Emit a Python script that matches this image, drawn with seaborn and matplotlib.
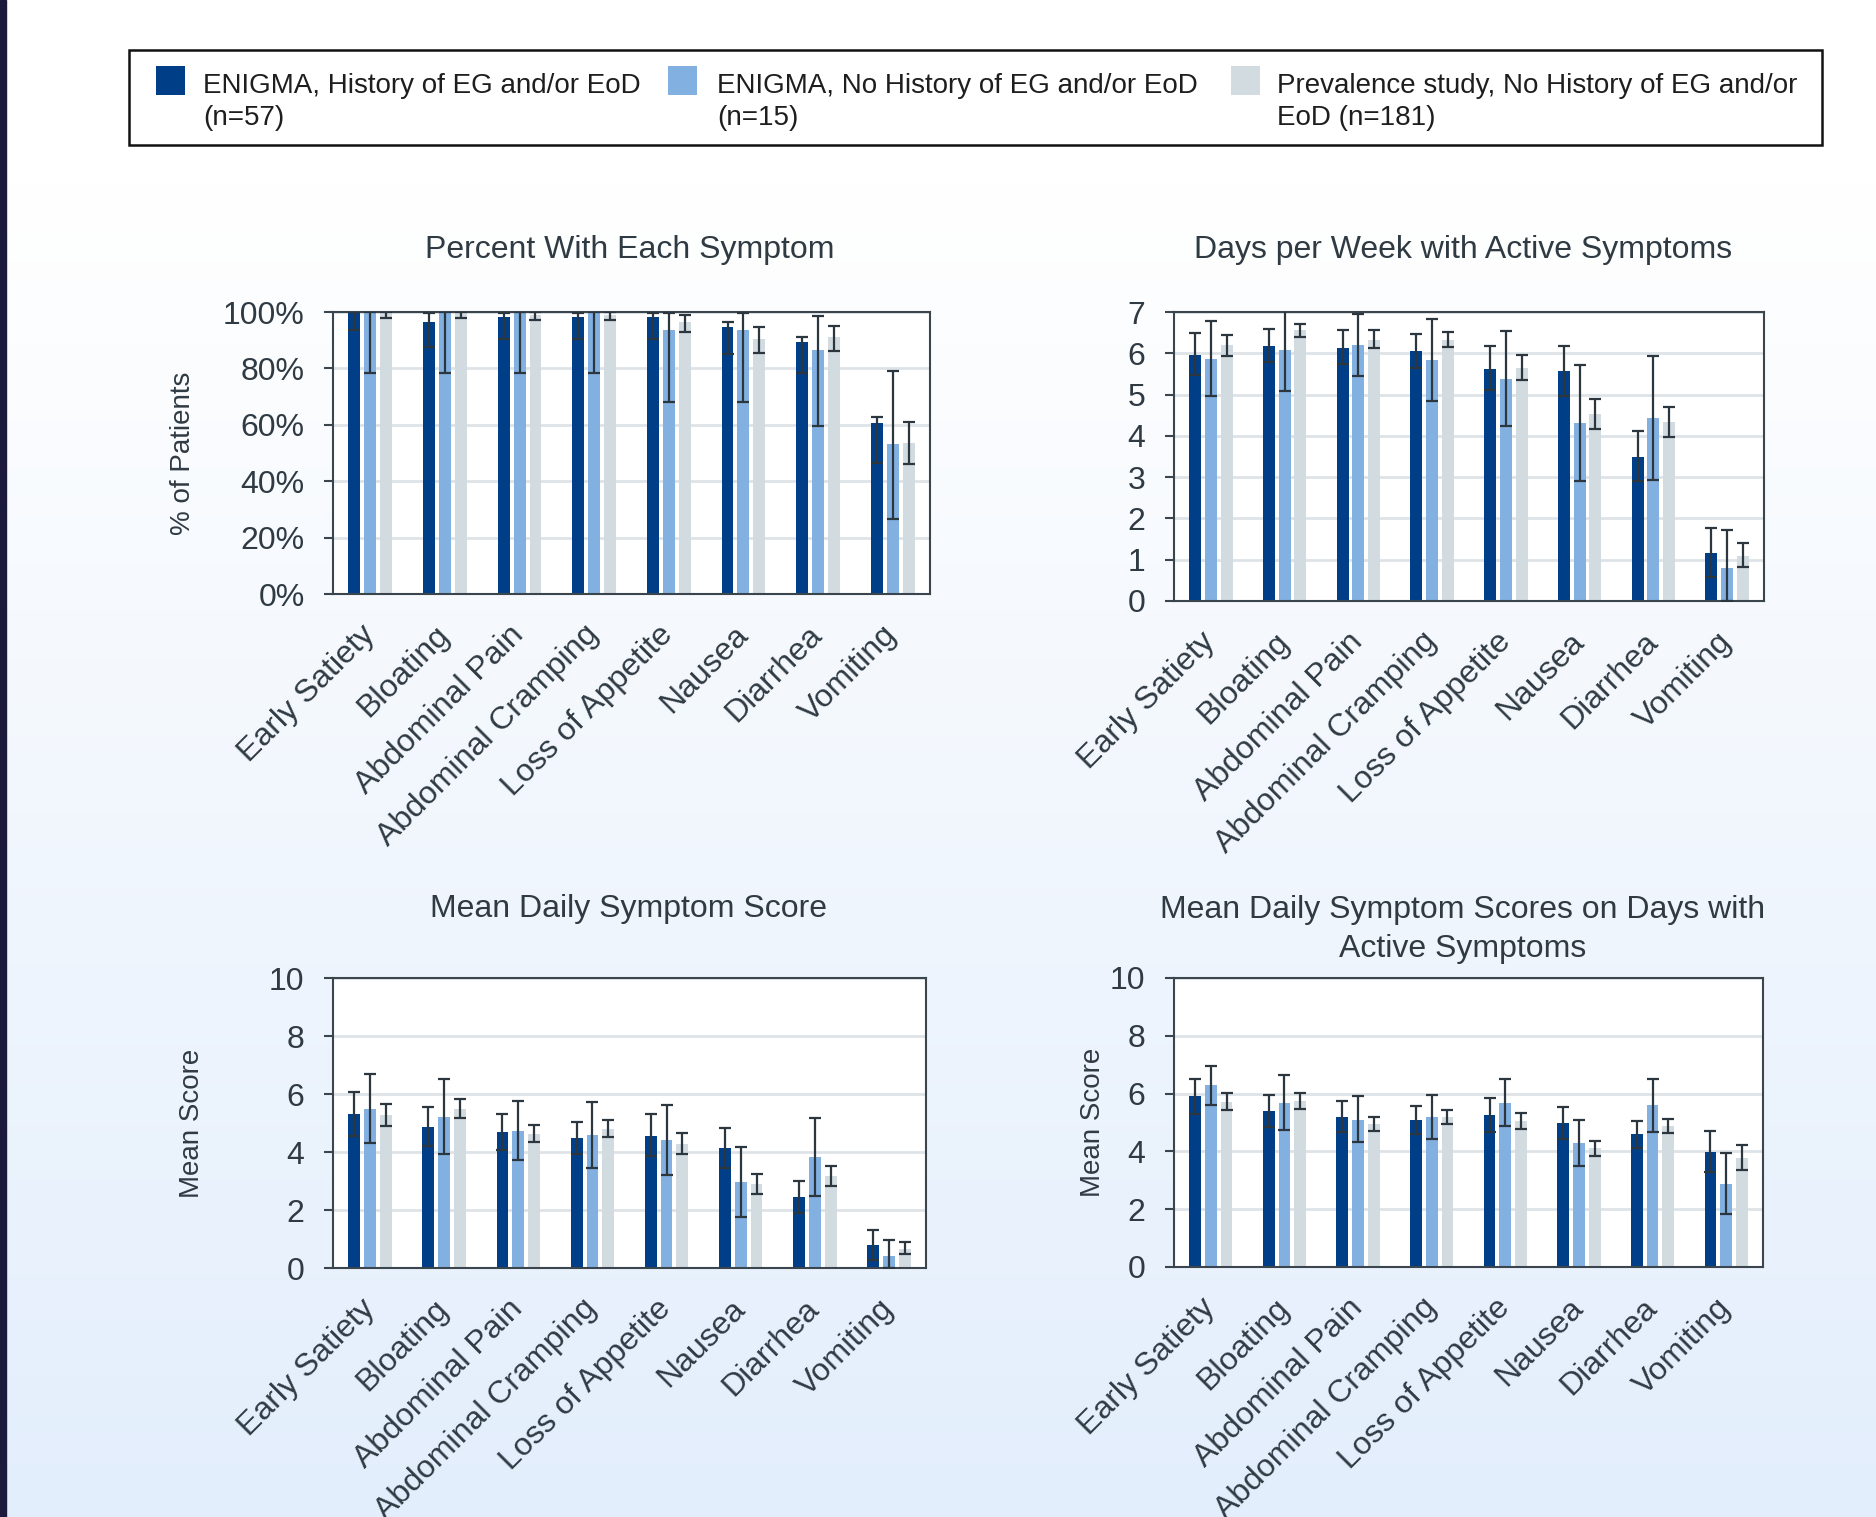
import matplotlib

matplotlib.use("Agg")
import matplotlib.pyplot as plt
import numpy as np
import pandas as pd
import seaborn as sns
from matplotlib.colors import LinearSegmentedColormap
from matplotlib.patches import Rectangle
from matplotlib.ticker import MultipleLocator, PercentFormatter

symptoms = ["Early Satiety", "Bloating", "Abdominal Pain", "Abdominal Cramping",
            "Loss of Appetite", "Nausea", "Diarrhea", "Vomiting"]
groups = ["ENIGMA, History of EG and/or EoD\n(n=57)",
          "ENIGMA, No History of EG and/or EoD\n(n=15)",
          "Prevalence study, No History of EG and/or\nEoD (n=181)"]
colors = ["#003f88", "#82b0e1", "#d2dbe0"]

# one inner list per group (same order as `groups`)
pct_mean = [[100, 96.6, 98.2, 98.2, 98.2, 94.7, 89.4, 60.7],
            [100, 100, 100, 100, 93.5, 93.5, 86.7, 53.1],
            [99.5, 99.5, 99.0, 99.0, 96.6, 90.6, 91.1, 53.6]]
pct_lo = [[93.7, 87.6, 90.4, 90.4, 90.4, 85.2, 78.2, 46.6],
          [78.2, 78.2, 78.2, 78.2, 68.1, 68.1, 59.5, 26.6],
          [98.0, 98.0, 97.0, 97.0, 92.9, 85.5, 86.2, 46.0]]
pct_hi = [[100, 99.6, 99.6, 99.6, 99.6, 96.6, 91.1, 62.6],
          [100, 100, 100, 100, 99.8, 99.8, 98.6, 79.0],
          [100, 100, 100, 100, 98.9, 94.6, 95.0, 60.9]]

days_mean = [[5.97, 6.17, 6.13, 6.05, 5.63, 5.56, 3.49, 1.17],
             [5.87, 6.07, 6.19, 5.83, 5.37, 4.30, 4.44, 0.81],
             [6.19, 6.56, 6.33, 6.31, 5.65, 4.52, 4.33, 1.10]]
days_lo = [[5.47, 5.79, 5.73, 5.65, 5.12, 4.96, 2.91, 0.59],
           [4.96, 5.08, 5.44, 4.84, 4.24, 2.91, 2.93, 0.0],
           [5.94, 6.40, 6.13, 6.15, 5.35, 4.16, 3.98, 0.83]]
days_hi = [[6.48, 6.58, 6.56, 6.46, 6.17, 6.17, 4.11, 1.77],
           [6.77, 7.05, 6.96, 6.84, 6.53, 5.71, 5.94, 1.73],
           [6.44, 6.72, 6.56, 6.52, 5.97, 4.90, 4.70, 1.40]]

score_mean = [[5.31, 4.87, 4.68, 4.48, 4.56, 4.15, 2.45, 0.79],
              [5.48, 5.22, 4.74, 4.57, 4.41, 2.97, 3.83, 0.41],
              [5.26, 5.49, 4.62, 4.80, 4.29, 2.90, 3.17, 0.67]]
score_lo = [[4.54, 4.22, 4.06, 3.92, 3.85, 3.45, 1.91, 0.26],
            [4.31, 3.94, 3.71, 3.45, 3.20, 1.77, 2.47, 0.0],
            [4.91, 5.17, 4.33, 4.52, 3.93, 2.56, 2.84, 0.48]]
score_hi = [[6.06, 5.54, 5.32, 5.05, 5.30, 4.84, 2.99, 1.32],
            [6.68, 6.51, 5.75, 5.71, 5.63, 4.17, 5.16, 0.98],
            [5.64, 5.83, 4.92, 5.10, 4.66, 3.24, 3.52, 0.90]]

active_mean = [[5.90, 5.40, 5.20, 5.09, 5.27, 4.98, 4.59, 3.99],
               [6.29, 5.69, 5.09, 5.19, 5.68, 4.29, 5.60, 2.88],
               [5.72, 5.75, 4.95, 5.19, 5.04, 4.12, 4.87, 3.77]]
active_lo = [[5.28, 4.84, 4.67, 4.61, 4.68, 4.44, 4.13, 3.28],
             [5.62, 4.73, 4.31, 4.44, 4.87, 3.48, 4.67, 1.83],
             [5.43, 5.48, 4.71, 4.96, 4.76, 3.85, 4.62, 3.35]]
active_hi = [[6.52, 5.94, 5.73, 5.57, 5.85, 5.54, 5.04, 4.71],
             [6.97, 6.65, 5.90, 5.94, 6.51, 5.10, 6.52, 3.94],
             [6.03, 6.01, 5.19, 5.42, 5.32, 4.37, 5.13, 4.23]]

W, H = 1876, 1517
TEXT_C = "#2f3a43"
SPINE_C = "#3a454e"
ERR_C = "#2c363e"
GRID_C = "#dde3e7"

sns.set_theme(style="white")
plt.rcParams["font.family"] = ["Liberation Sans", "DejaVu Sans"]


def rect(left, top, right, bottom):
    return [left / W, 1 - bottom / H, (right - left) / W, (bottom - top) / H]


fig = plt.figure(figsize=(W / 100, H / 100), dpi=100)

# soft white-to-blue page background + dark left rule
bg = fig.add_axes([0, 0, 1, 1], zorder=-10)
bg_cmap = LinearSegmentedColormap.from_list("bg", [(0, "white"), (0.12, "white"), (1, "#e3eefc")])
bg.imshow(np.linspace(0, 1, 256)[:, None], cmap=bg_cmap, aspect="auto", extent=[0, 1, 0, 1])
bg.add_patch(Rectangle((0, 0), 6 / W, 1, color="#1b1a3d"))
bg.set_xlim(0, 1)
bg.set_ylim(0, 1)
bg.axis("off")


def draw_panel(box, means, lows, highs, ymax, step, title, title_pad,
               ylabel="", label_x=None, pct=False, title_x=0.5):
    ax = fig.add_axes(rect(*box))
    df = pd.DataFrame({
        "symptom": symptoms * len(groups),
        "group": np.repeat(groups, len(symptoms)),
        "value": np.concatenate(means),
    })
    sns.barplot(data=df, x="symptom", y="value", hue="group", order=symptoms,
                hue_order=groups, palette=colors, saturation=1, width=0.64, gap=0.25,
                errorbar=None, linewidth=0, legend=False, ax=ax, zorder=2)
    bar_sets = list(ax.containers)
    for cont, m, lo, hi in zip(bar_sets, means, lows, highs):
        xs = [p.get_x() + p.get_width() / 2 for p in cont]
        m, lo, hi = np.asarray(m), np.asarray(lo), np.asarray(hi)
        ax.errorbar(xs, m, yerr=[m - lo, hi - m], fmt="none", ecolor=ERR_C,
                    elinewidth=1.6, capsize=4.5, capthick=1.6, zorder=3)

    ax.set_xlim(-0.5, len(symptoms) - 0.5)
    ax.set_ylim(0, ymax)
    ax.yaxis.set_major_locator(MultipleLocator(step))
    if pct:
        ax.yaxis.set_major_formatter(PercentFormatter(100, decimals=0))
    ax.set_facecolor("white")
    ax.grid(axis="y", color=GRID_C, lw=2)
    ax.set_axisbelow(True)
    for s in ax.spines.values():
        s.set_visible(True)
        s.set_color(SPINE_C)
        s.set_linewidth(1.5)
    ax.tick_params(axis="y", left=True, length=6.5, width=1.5, color=SPINE_C, pad=14,
                   labelsize=23, labelcolor=TEXT_C)
    ax.tick_params(axis="x", bottom=False, length=0, pad=26, labelsize=23, labelcolor=TEXT_C)
    plt.setp(ax.get_xticklabels(), rotation=45, ha="right", va="center", rotation_mode="anchor")
    ax.set_xlabel("")
    ax.set_ylabel(ylabel, fontsize=20, color=TEXT_C)
    if label_x is not None:
        ax.yaxis.set_label_coords(label_x, 0.5)
    ax.set_title(title, fontsize=23, color=TEXT_C, pad=title_pad, linespacing=1.42, x=title_x)
    return ax


draw_panel((333, 312, 930, 594), pct_mean, pct_lo, pct_hi, 100, 20,
           "Percent With Each Symptom", 39, ylabel="% of Patients", label_x=-0.229, pct=True,
           title_x=0.497)
draw_panel((1174, 312, 1764, 601), days_mean, days_lo, days_hi, 7, 1,
           "Days per Week with Active Symptoms", 39, title_x=0.49)
draw_panel((333, 978, 926, 1268), score_mean, score_lo, score_hi, 10, 2,
           "Mean Daily Symptom Score", 44, ylabel="Mean Score", label_x=-0.216, title_x=0.498)
draw_panel((1174, 978, 1763, 1267), active_mean, active_lo, active_hi, 10, 2,
           "Mean Daily Symptom Scores on Days with\nActive Symptoms", 15,
           ylabel="Mean Score", label_x=-0.115, title_x=0.49)

# legend box across the top
fig.add_artist(Rectangle((129 / W, 1 - 145 / H), (1822 - 129) / W, 95 / H,
                         transform=fig.transFigure, facecolor="white",
                         edgecolor="#111111", linewidth=1.8, zorder=1))
for px, tx, color, label in zip([156, 668, 1231], [203, 717, 1277], colors, groups):
    fig.add_artist(Rectangle((px / W, 1 - 95 / H), 29 / W, 29 / H,
                             transform=fig.transFigure, facecolor=color,
                             edgecolor="none", zorder=2))
    # baseline alignment of multi-line text sits on the last line
    fig.text(tx / W, 1 - 125 / H, label, fontsize=20, color="#1e1e1e",
             va="baseline", ha="left", linespacing=1.3, zorder=3)

fig.savefig("out.png", dpi=100)
